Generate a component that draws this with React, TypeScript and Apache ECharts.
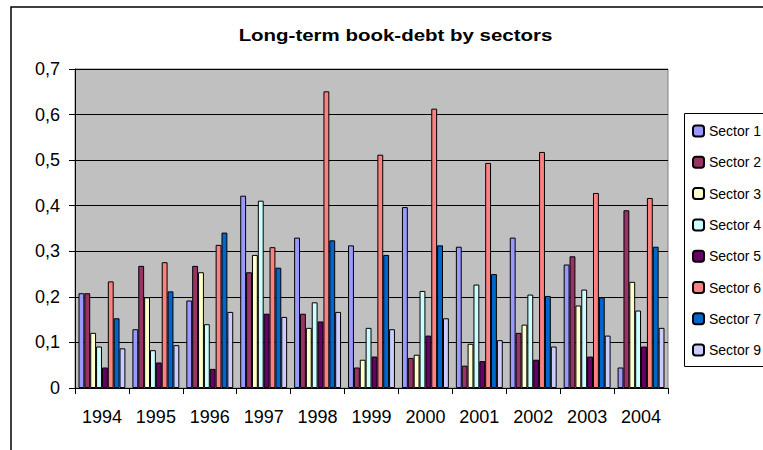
import React, { useEffect, useRef } from "react";
import * as echarts from "echarts";

const years = ["1994", "1995", "1996", "1997", "1998", "1999", "2000", "2001", "2002", "2003", "2004"];
const seriesNames = ["Sector 1", "Sector 2", "Sector 3", "Sector 4", "Sector 5", "Sector 6", "Sector 7", "Sector 9"];
const colors = ["#9999FF", "#993366", "#FFFFCC", "#CCFFFF", "#660066", "#FF8080", "#0066CC", "#CCCCFF"];

const sector1 = [0.208, 0.129, 0.192, 0.422, 0.330, 0.313, 0.397, 0.310, 0.330, 0.271, 0.045];
const sector2 = [0.208, 0.268, 0.268, 0.254, 0.163, 0.045, 0.066, 0.049, 0.121, 0.289, 0.390];
const sector3 = [0.121, 0.199, 0.254, 0.292, 0.132, 0.062, 0.073, 0.097, 0.139, 0.181, 0.233];
const sector4 = [0.091, 0.083, 0.140, 0.411, 0.188, 0.132, 0.213, 0.227, 0.205, 0.216, 0.170];
const sector5 = [0.045, 0.056, 0.042, 0.163, 0.146, 0.069, 0.115, 0.059, 0.062, 0.069, 0.091];
const sector6 = [0.234, 0.276, 0.314, 0.309, 0.651, 0.512, 0.613, 0.494, 0.518, 0.428, 0.417];
const sector7 = [0.153, 0.212, 0.341, 0.264, 0.324, 0.292, 0.313, 0.250, 0.202, 0.199, 0.310];
const sector9 = [0.087, 0.094, 0.167, 0.156, 0.167, 0.129, 0.153, 0.105, 0.091, 0.115, 0.132];

const allSeries = [sector1, sector2, sector3, sector4, sector5, sector6, sector7, sector9];

const FONT = "'Liberation Sans', Arial, sans-serif";

export default function App() {
  const ref = useRef<HTMLDivElement>(null);

  useEffect(() => {
    if (!ref.current) return;
    const chart = echarts.init(ref.current, undefined, { renderer: "svg" });
    chart.setOption({
      animation: false,
      backgroundColor: "#FFFFFF",
      textStyle: { fontFamily: FONT },
      graphic: [
        {
          type: "rect",
          shape: { x: 11, y: 7, width: 900, height: 600 },
          style: { fill: "none", stroke: "#000", lineWidth: 1.5 },
          z: 100,
        },
        {
          type: "rect",
          shape: { x: 684.5, y: 113.5, width: 200, height: 253 },
          style: { fill: "#FFFFFF", stroke: "#000", lineWidth: 1 },
          z: 0,
        },
        {
          type: "text",
          x: 395.5,
          y: 35,
          scaleX: 1.28,
          style: {
            text: "Long-term book-debt by sectors",
            fontSize: 16,
            fontWeight: "bold",
            fontFamily: FONT,
            fill: "#000",
            textAlign: "center",
            textVerticalAlign: "middle",
          },
        },
      ],
      legend: {
        orient: "vertical",
        left: 684,
        top: 113,
        padding: [11, 10, 10, 8],
        itemWidth: 11,
        itemHeight: 11,
        itemGap: 17.3,
        borderWidth: 0,
        textStyle: { fontSize: 14, color: "#000", fontFamily: FONT, lineHeight: 13 },
        data: seriesNames,
        z: 10,
      },
      grid: {
        left: 75,
        top: 69,
        right: 95,
        bottom: 62,
        show: true,
        backgroundColor: "#C0C0C0",
        borderColor: "#808080",
        borderWidth: 1,
      },
      xAxis: {
        type: "category",
        data: years,
        axisLine: { show: true, lineStyle: { color: "#000", width: 1 } },
        axisTick: { show: true, length: 6, lineStyle: { color: "#000" } },
        axisLabel: { fontSize: 18, color: "#000", margin: 20, fontFamily: FONT },
        splitLine: { show: false },
      },
      yAxis: {
        type: "value",
        min: 0,
        max: 0.7,
        interval: 0.1,
        axisLine: { show: true, lineStyle: { color: "#000", width: 1 } },
        axisTick: { show: true, length: 6, lineStyle: { color: "#000" } },
        axisLabel: {
          fontSize: 18,
          color: "#000",
          margin: 15,
          fontFamily: FONT,
          formatter: (v: number) => (v === 0 ? "0" : v.toFixed(1).replace(".", ",")),
        },
        splitLine: { show: true, lineStyle: { color: "#000", width: 1 } },
      },
      series: allSeries.map((d, i) => ({
        name: seriesNames[i],
        type: "bar",
        data: d,
        barGap: "0%",
        barCategoryGap: "13%",
        itemStyle: { color: colors[i], borderColor: "#000", borderWidth: 1 },
      })),
    });
    return () => chart.dispose();
  }, []);

  return (
    <div
      ref={ref}
      style={{ position: "absolute", left: 0, top: 0, width: 763, height: 450 }}
    />
  );
}
